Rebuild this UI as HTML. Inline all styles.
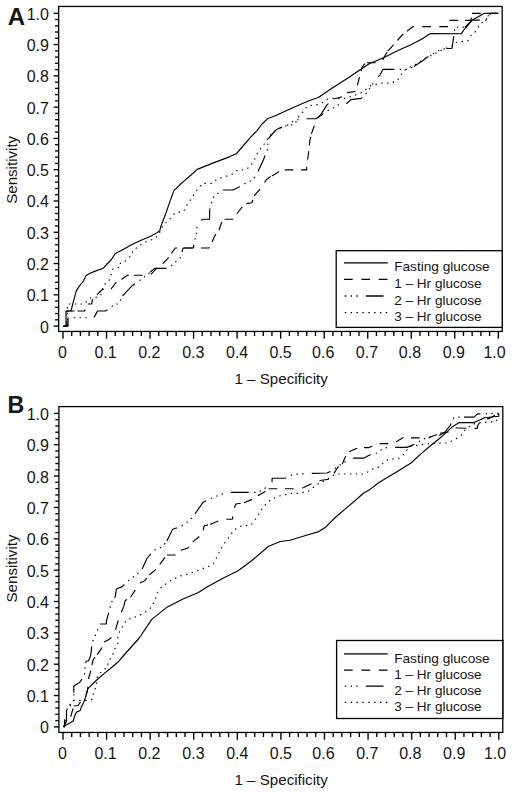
<!DOCTYPE html>
<html><head><meta charset="utf-8"><style>
html,body{margin:0;padding:0;background:#fff;}
svg{display:block;}
text{font-family:"Liberation Sans", sans-serif;fill:#151515;}
</style></head><body>
<svg width="512" height="793" viewBox="0 0 512 793">
<rect x="0" y="0" width="512" height="793" fill="#fff"/>
<rect x="58.65" y="6.45" width="443.55" height="325" fill="none" stroke="#000" stroke-width="1.3"/>
<line x1="53.65" y1="326.1" x2="58.65" y2="326.1" stroke="#000" stroke-width="1.35"/>
<line x1="55.05" y1="319.84" x2="58.65" y2="319.84" stroke="#000" stroke-width="1.35"/>
<line x1="55.05" y1="313.59" x2="58.65" y2="313.59" stroke="#000" stroke-width="1.35"/>
<line x1="55.05" y1="307.33" x2="58.65" y2="307.33" stroke="#000" stroke-width="1.35"/>
<line x1="55.05" y1="301.08" x2="58.65" y2="301.08" stroke="#000" stroke-width="1.35"/>
<line x1="53.65" y1="294.82" x2="58.65" y2="294.82" stroke="#000" stroke-width="1.35"/>
<line x1="55.05" y1="288.56" x2="58.65" y2="288.56" stroke="#000" stroke-width="1.35"/>
<line x1="55.05" y1="282.31" x2="58.65" y2="282.31" stroke="#000" stroke-width="1.35"/>
<line x1="55.05" y1="276.05" x2="58.65" y2="276.05" stroke="#000" stroke-width="1.35"/>
<line x1="55.05" y1="269.8" x2="58.65" y2="269.8" stroke="#000" stroke-width="1.35"/>
<line x1="53.65" y1="263.54" x2="58.65" y2="263.54" stroke="#000" stroke-width="1.35"/>
<line x1="55.05" y1="257.28" x2="58.65" y2="257.28" stroke="#000" stroke-width="1.35"/>
<line x1="55.05" y1="251.03" x2="58.65" y2="251.03" stroke="#000" stroke-width="1.35"/>
<line x1="55.05" y1="244.77" x2="58.65" y2="244.77" stroke="#000" stroke-width="1.35"/>
<line x1="55.05" y1="238.52" x2="58.65" y2="238.52" stroke="#000" stroke-width="1.35"/>
<line x1="53.65" y1="232.26" x2="58.65" y2="232.26" stroke="#000" stroke-width="1.35"/>
<line x1="55.05" y1="226" x2="58.65" y2="226" stroke="#000" stroke-width="1.35"/>
<line x1="55.05" y1="219.75" x2="58.65" y2="219.75" stroke="#000" stroke-width="1.35"/>
<line x1="55.05" y1="213.49" x2="58.65" y2="213.49" stroke="#000" stroke-width="1.35"/>
<line x1="55.05" y1="207.24" x2="58.65" y2="207.24" stroke="#000" stroke-width="1.35"/>
<line x1="53.65" y1="200.98" x2="58.65" y2="200.98" stroke="#000" stroke-width="1.35"/>
<line x1="55.05" y1="194.72" x2="58.65" y2="194.72" stroke="#000" stroke-width="1.35"/>
<line x1="55.05" y1="188.47" x2="58.65" y2="188.47" stroke="#000" stroke-width="1.35"/>
<line x1="55.05" y1="182.21" x2="58.65" y2="182.21" stroke="#000" stroke-width="1.35"/>
<line x1="55.05" y1="175.96" x2="58.65" y2="175.96" stroke="#000" stroke-width="1.35"/>
<line x1="53.65" y1="169.7" x2="58.65" y2="169.7" stroke="#000" stroke-width="1.35"/>
<line x1="55.05" y1="163.44" x2="58.65" y2="163.44" stroke="#000" stroke-width="1.35"/>
<line x1="55.05" y1="157.19" x2="58.65" y2="157.19" stroke="#000" stroke-width="1.35"/>
<line x1="55.05" y1="150.93" x2="58.65" y2="150.93" stroke="#000" stroke-width="1.35"/>
<line x1="55.05" y1="144.68" x2="58.65" y2="144.68" stroke="#000" stroke-width="1.35"/>
<line x1="53.65" y1="138.42" x2="58.65" y2="138.42" stroke="#000" stroke-width="1.35"/>
<line x1="55.05" y1="132.16" x2="58.65" y2="132.16" stroke="#000" stroke-width="1.35"/>
<line x1="55.05" y1="125.91" x2="58.65" y2="125.91" stroke="#000" stroke-width="1.35"/>
<line x1="55.05" y1="119.65" x2="58.65" y2="119.65" stroke="#000" stroke-width="1.35"/>
<line x1="55.05" y1="113.4" x2="58.65" y2="113.4" stroke="#000" stroke-width="1.35"/>
<line x1="53.65" y1="107.14" x2="58.65" y2="107.14" stroke="#000" stroke-width="1.35"/>
<line x1="55.05" y1="100.88" x2="58.65" y2="100.88" stroke="#000" stroke-width="1.35"/>
<line x1="55.05" y1="94.63" x2="58.65" y2="94.63" stroke="#000" stroke-width="1.35"/>
<line x1="55.05" y1="88.37" x2="58.65" y2="88.37" stroke="#000" stroke-width="1.35"/>
<line x1="55.05" y1="82.12" x2="58.65" y2="82.12" stroke="#000" stroke-width="1.35"/>
<line x1="53.65" y1="75.86" x2="58.65" y2="75.86" stroke="#000" stroke-width="1.35"/>
<line x1="55.05" y1="69.6" x2="58.65" y2="69.6" stroke="#000" stroke-width="1.35"/>
<line x1="55.05" y1="63.35" x2="58.65" y2="63.35" stroke="#000" stroke-width="1.35"/>
<line x1="55.05" y1="57.09" x2="58.65" y2="57.09" stroke="#000" stroke-width="1.35"/>
<line x1="55.05" y1="50.84" x2="58.65" y2="50.84" stroke="#000" stroke-width="1.35"/>
<line x1="53.65" y1="44.58" x2="58.65" y2="44.58" stroke="#000" stroke-width="1.35"/>
<line x1="55.05" y1="38.32" x2="58.65" y2="38.32" stroke="#000" stroke-width="1.35"/>
<line x1="55.05" y1="32.07" x2="58.65" y2="32.07" stroke="#000" stroke-width="1.35"/>
<line x1="55.05" y1="25.81" x2="58.65" y2="25.81" stroke="#000" stroke-width="1.35"/>
<line x1="55.05" y1="19.56" x2="58.65" y2="19.56" stroke="#000" stroke-width="1.35"/>
<line x1="53.65" y1="13.3" x2="58.65" y2="13.3" stroke="#000" stroke-width="1.35"/>
<line x1="63" y1="331.45" x2="63" y2="338.75" stroke="#000" stroke-width="1.35"/>
<line x1="71.71" y1="331.45" x2="71.71" y2="336.05" stroke="#000" stroke-width="1.35"/>
<line x1="80.41" y1="331.45" x2="80.41" y2="336.05" stroke="#000" stroke-width="1.35"/>
<line x1="89.12" y1="331.45" x2="89.12" y2="336.05" stroke="#000" stroke-width="1.35"/>
<line x1="97.82" y1="331.45" x2="97.82" y2="336.05" stroke="#000" stroke-width="1.35"/>
<line x1="106.53" y1="331.45" x2="106.53" y2="338.75" stroke="#000" stroke-width="1.35"/>
<line x1="115.24" y1="331.45" x2="115.24" y2="336.05" stroke="#000" stroke-width="1.35"/>
<line x1="123.94" y1="331.45" x2="123.94" y2="336.05" stroke="#000" stroke-width="1.35"/>
<line x1="132.65" y1="331.45" x2="132.65" y2="336.05" stroke="#000" stroke-width="1.35"/>
<line x1="141.35" y1="331.45" x2="141.35" y2="336.05" stroke="#000" stroke-width="1.35"/>
<line x1="150.06" y1="331.45" x2="150.06" y2="338.75" stroke="#000" stroke-width="1.35"/>
<line x1="158.77" y1="331.45" x2="158.77" y2="336.05" stroke="#000" stroke-width="1.35"/>
<line x1="167.47" y1="331.45" x2="167.47" y2="336.05" stroke="#000" stroke-width="1.35"/>
<line x1="176.18" y1="331.45" x2="176.18" y2="336.05" stroke="#000" stroke-width="1.35"/>
<line x1="184.88" y1="331.45" x2="184.88" y2="336.05" stroke="#000" stroke-width="1.35"/>
<line x1="193.59" y1="331.45" x2="193.59" y2="338.75" stroke="#000" stroke-width="1.35"/>
<line x1="202.3" y1="331.45" x2="202.3" y2="336.05" stroke="#000" stroke-width="1.35"/>
<line x1="211" y1="331.45" x2="211" y2="336.05" stroke="#000" stroke-width="1.35"/>
<line x1="219.71" y1="331.45" x2="219.71" y2="336.05" stroke="#000" stroke-width="1.35"/>
<line x1="228.41" y1="331.45" x2="228.41" y2="336.05" stroke="#000" stroke-width="1.35"/>
<line x1="237.12" y1="331.45" x2="237.12" y2="338.75" stroke="#000" stroke-width="1.35"/>
<line x1="245.83" y1="331.45" x2="245.83" y2="336.05" stroke="#000" stroke-width="1.35"/>
<line x1="254.53" y1="331.45" x2="254.53" y2="336.05" stroke="#000" stroke-width="1.35"/>
<line x1="263.24" y1="331.45" x2="263.24" y2="336.05" stroke="#000" stroke-width="1.35"/>
<line x1="271.94" y1="331.45" x2="271.94" y2="336.05" stroke="#000" stroke-width="1.35"/>
<line x1="280.65" y1="331.45" x2="280.65" y2="338.75" stroke="#000" stroke-width="1.35"/>
<line x1="289.36" y1="331.45" x2="289.36" y2="336.05" stroke="#000" stroke-width="1.35"/>
<line x1="298.06" y1="331.45" x2="298.06" y2="336.05" stroke="#000" stroke-width="1.35"/>
<line x1="306.77" y1="331.45" x2="306.77" y2="336.05" stroke="#000" stroke-width="1.35"/>
<line x1="315.47" y1="331.45" x2="315.47" y2="336.05" stroke="#000" stroke-width="1.35"/>
<line x1="324.18" y1="331.45" x2="324.18" y2="338.75" stroke="#000" stroke-width="1.35"/>
<line x1="332.89" y1="331.45" x2="332.89" y2="336.05" stroke="#000" stroke-width="1.35"/>
<line x1="341.59" y1="331.45" x2="341.59" y2="336.05" stroke="#000" stroke-width="1.35"/>
<line x1="350.3" y1="331.45" x2="350.3" y2="336.05" stroke="#000" stroke-width="1.35"/>
<line x1="359" y1="331.45" x2="359" y2="336.05" stroke="#000" stroke-width="1.35"/>
<line x1="367.71" y1="331.45" x2="367.71" y2="338.75" stroke="#000" stroke-width="1.35"/>
<line x1="376.42" y1="331.45" x2="376.42" y2="336.05" stroke="#000" stroke-width="1.35"/>
<line x1="385.12" y1="331.45" x2="385.12" y2="336.05" stroke="#000" stroke-width="1.35"/>
<line x1="393.83" y1="331.45" x2="393.83" y2="336.05" stroke="#000" stroke-width="1.35"/>
<line x1="402.53" y1="331.45" x2="402.53" y2="336.05" stroke="#000" stroke-width="1.35"/>
<line x1="411.24" y1="331.45" x2="411.24" y2="338.75" stroke="#000" stroke-width="1.35"/>
<line x1="419.95" y1="331.45" x2="419.95" y2="336.05" stroke="#000" stroke-width="1.35"/>
<line x1="428.65" y1="331.45" x2="428.65" y2="336.05" stroke="#000" stroke-width="1.35"/>
<line x1="437.36" y1="331.45" x2="437.36" y2="336.05" stroke="#000" stroke-width="1.35"/>
<line x1="446.06" y1="331.45" x2="446.06" y2="336.05" stroke="#000" stroke-width="1.35"/>
<line x1="454.77" y1="331.45" x2="454.77" y2="338.75" stroke="#000" stroke-width="1.35"/>
<line x1="463.48" y1="331.45" x2="463.48" y2="336.05" stroke="#000" stroke-width="1.35"/>
<line x1="472.18" y1="331.45" x2="472.18" y2="336.05" stroke="#000" stroke-width="1.35"/>
<line x1="480.89" y1="331.45" x2="480.89" y2="336.05" stroke="#000" stroke-width="1.35"/>
<line x1="489.59" y1="331.45" x2="489.59" y2="336.05" stroke="#000" stroke-width="1.35"/>
<line x1="498.3" y1="331.45" x2="498.3" y2="338.75" stroke="#000" stroke-width="1.35"/>
<text x="48.9" y="332.5" font-size="16" text-anchor="end" font-weight="normal">0</text>
<text x="48.9" y="301.22" font-size="16" text-anchor="end" font-weight="normal">0.1</text>
<text x="48.9" y="269.94" font-size="16" text-anchor="end" font-weight="normal">0.2</text>
<text x="48.9" y="238.66" font-size="16" text-anchor="end" font-weight="normal">0.3</text>
<text x="48.9" y="207.38" font-size="16" text-anchor="end" font-weight="normal">0.4</text>
<text x="48.9" y="176.1" font-size="16" text-anchor="end" font-weight="normal">0.5</text>
<text x="48.9" y="144.82" font-size="16" text-anchor="end" font-weight="normal">0.6</text>
<text x="48.9" y="113.54" font-size="16" text-anchor="end" font-weight="normal">0.7</text>
<text x="48.9" y="82.26" font-size="16" text-anchor="end" font-weight="normal">0.8</text>
<text x="48.9" y="50.98" font-size="16" text-anchor="end" font-weight="normal">0.9</text>
<text x="48.9" y="19.7" font-size="16" text-anchor="end" font-weight="normal">1.0</text>
<text x="62.4" y="358.4" font-size="16" text-anchor="middle" font-weight="normal">0</text>
<text x="105.53" y="358.4" font-size="16" text-anchor="middle" font-weight="normal">0.1</text>
<text x="149.26" y="358.4" font-size="16" text-anchor="middle" font-weight="normal">0.2</text>
<text x="193.29" y="358.4" font-size="16" text-anchor="middle" font-weight="normal">0.3</text>
<text x="237.12" y="358.4" font-size="16" text-anchor="middle" font-weight="normal">0.4</text>
<text x="280.65" y="358.4" font-size="16" text-anchor="middle" font-weight="normal">0.5</text>
<text x="323.18" y="358.4" font-size="16" text-anchor="middle" font-weight="normal">0.6</text>
<text x="366.91" y="358.4" font-size="16" text-anchor="middle" font-weight="normal">0.7</text>
<text x="409.94" y="358.4" font-size="16" text-anchor="middle" font-weight="normal">0.8</text>
<text x="453.77" y="358.4" font-size="16" text-anchor="middle" font-weight="normal">0.9</text>
<text x="494.6" y="358.4" font-size="16" text-anchor="middle" font-weight="normal">1.0</text>
<text x="16.6" y="169.85" font-size="14" text-anchor="middle" font-weight="normal" textLength="68" lengthAdjust="spacingAndGlyphs" transform="rotate(-90 16.6 169.85)">Sensitivity</text>
<text x="234.5" y="384.1" font-size="14" text-anchor="start" font-weight="normal" textLength="93.3" lengthAdjust="spacingAndGlyphs">1 – Specificity</text>
<text x="7.7" y="25" font-size="24" text-anchor="start" font-weight="bold">A</text>
<polyline points="63.5,326.1 66,326.1 66,311 71,311 72.5,304.8 74.8,296.3 76,291.6 79.1,286.4 83.5,281 85.9,275.8 89.4,273.5 95.2,271.1 103.4,268.2 107.5,263.5 111,260 115.4,253.4 125,248.5 130,245.6 139.4,241 148.75,237 154.9,234.1 159.8,230.7 160.7,226.8 165.6,214 170,201.4 173.9,190.6 179.8,184.8 186,179.4 191,175 197.2,169.4 212.2,163.4 230,156.6 236.25,153.8 241.7,147.5 250.5,137.4 257.3,130.3 262,124 267.4,118.8 277.1,115 286.7,110.5 298.4,105.2 310.2,100.3 318.3,97.5 332.3,88.1 348.75,77.6 360.5,69.6 370,63.2 376.4,60.8 386.1,56.5 396.9,51.1 410.8,44.7 421.1,39.6 430.5,33.6 461.4,33.8 464.3,29.4 468.4,24.75 472,20 477.8,17.1 482.5,14.2 484.3,13.3 498.5,13.3" fill="none" stroke="#000" stroke-width="1.15" stroke-linejoin="round"/>
<path d="M63.50 326.10 L67.00 326.10 L67.00 320.90 M67.00 312.20 L67.00 311.00 L74.50 311.00 M77.50 311.00 L84.70 311.00 L84.70 309.50 M87.90 304.00 L87.90 304.00 M87.90 304.00 L91.70 304.00 L92.59 299.18 M96.88 294.54 L97.60 294.00 L102.30 289.50 L103.59 289.43 M110.91 289.01 L111.00 289.00 L115.70 282.85 L116.44 282.40 M121.47 279.38 L121.60 279.30 L127.50 275.20 L128.86 275.20 M133.80 275.20 L142.50 275.20 M150.84 274.34 L156.90 268.10 M162.80 263.60 L167.50 258.90 L168.69 257.23 M171.40 253.40 L175.30 248.00 L177.34 248.00 M184.00 248.00 L192.70 248.00 M201.00 248.00 L209.00 248.00 L209.31 247.37 M212.00 241.90 L212.00 241.90 L215.00 235.60 L216.00 234.20 M219.00 230.00 L221.40 223.00 L222.22 221.99 M224.50 219.20 L233.20 219.20 M237.00 213.75 L241.70 207.50 L242.38 206.94 M246.40 203.60 L251.90 202.80 L252.88 199.81 M254.20 195.80 L259.00 190.30 L259.84 189.18 M264.53 182.46 L266.00 180.00 L270.00 176.90 L270.68 176.52 M271.74 175.93 L277.00 173.00 L279.09 171.33 M284.70 169.80 L293.40 169.80 M301.00 169.80 L306.70 169.80 L306.70 166.80 M307.56 159.71 L308.30 155.00 L308.72 151.09 M309.31 145.55 L309.80 141.00 L310.71 136.97 M311.40 133.90 L314.35 125.72 M317.95 117.90 L318.15 117.67 M318.15 117.67 L321.00 114.30 L323.31 110.68 M323.33 110.64 L327.00 104.90 L328.39 103.62 M333.40 99.00 L340.50 97.30 L341.63 96.47 M346.90 92.60 L355.53 91.46 M357.36 85.47 L359.00 79.00 L359.51 77.03 M361.00 71.25 L362.00 67.30 L364.80 63.62 M366.90 62.70 L375.60 62.70 M382.65 59.84 L387.00 52.31 M387.70 51.10 L392.60 45.80 L393.58 44.69 M397.40 40.40 L402.20 35.00 L403.37 34.10 M407.00 31.30 L413.00 26.60 L414.08 26.60 M422.30 26.60 L431.00 26.60 M439.30 26.60 L448.00 26.60 M449.64 20.59 L449.70 20.30 L458.11 20.30 M465.00 20.30 L471.00 20.30 L471.38 17.63 M472.00 13.30 L480.70 13.30 M489.40 13.30 L498.10 13.30" fill="none" stroke="#000" stroke-width="1.15" stroke-linejoin="round"/>
<path d="M63.50 326.10 L68.00 326.10 L68.00 317.70 L68.40 317.70 M73.70 317.70 L75.10 317.70 M79.50 317.70 L80.90 317.70 M85.30 317.70 L86.70 317.70 M94.02 317.36 L97.60 311.00 L105.20 311.00 L107.55 309.67 M111.76 306.56 L112.68 305.50 M116.40 304.00 L117.80 304.00 M120.25 300.86 L120.87 299.61 M122.64 296.02 L122.80 295.70 L132.70 285.20 L135.04 283.65 M139.42 280.66 L140.55 279.83 M144.02 277.14 L145.10 276.25 M148.51 273.46 L149.59 272.58 M150.30 272.00 L155.00 268.30 L166.62 268.30 M171.04 265.94 L172.10 265.02 M175.33 262.04 L176.33 261.06 M179.68 258.22 L180.77 257.33 M182.05 252.01 L183.00 248.00 L193.30 248.00 L193.89 244.88 M194.89 239.67 L195.25 238.32 M196.38 234.07 L196.40 234.00 L196.51 232.68 M196.89 228.29 L197.01 226.90 M201.37 220.53 L202.70 219.20 M202.70 219.20 L209.50 219.20 L209.70 209.80 L210.04 208.44 M211.35 203.31 L211.78 201.98 M213.33 197.87 L213.97 196.63 M217.28 193.86 L218.44 193.08 M223.00 190.00 L233.00 190.00 L238.60 187.20 L239.77 186.55 M244.40 183.97 L245.60 183.30 L245.62 183.29 M249.56 181.32 L250.81 180.69 M254.16 178.10 L254.88 176.90 M258.00 171.60 L263.40 159.90 L265.01 155.47 M266.98 150.55 L267.55 149.27 M267.80 144.93 L267.80 144.80 L267.99 143.54 M268.63 139.19 L268.80 138.00 M268.80 138.00 L273.20 133.00 L276.20 129.80 L280.90 127.50 L282.16 127.11 M287.15 125.38 L288.29 124.58 M291.90 122.06 L293.07 121.29 M297.07 119.78 L298.46 119.63 M306.51 118.77 L307.20 118.70 M307.20 118.70 L316.00 118.70 L323.24 113.70 M327.61 110.70 L328.86 110.07 M332.80 108.10 L333.40 107.80 L333.99 107.38 M337.60 104.89 L338.99 104.70 M346.30 103.70 L351.00 99.60 L361.00 98.40 L361.98 97.56 M365.78 93.91 L366.59 92.77 M369.15 89.19 L369.96 88.05 M372.49 84.45 L373.29 83.30 M378.15 76.85 L380.20 74.80 M380.20 74.80 L382.90 69.40 L394.46 69.40 M399.76 69.40 L401.16 69.40 M405.56 69.40 L406.00 69.40 L406.91 69.08 M411.06 67.63 L412.38 67.17 M414.00 66.60 L423.40 60.20 L426.40 57.80 L428.42 56.53 M432.91 53.71 L434.10 52.97 M437.97 50.95 L439.30 50.51 M443.48 49.14 L444.20 48.90 L444.84 48.82 M446.85 48.59 L447.60 48.50 L452.00 48.50 L453.82 36.19 M454.51 30.93 L454.69 29.54 M456.94 27.10 L458.34 27.10 M462.74 27.10 L464.14 27.10 M465.05 27.05 L472.00 20.10 L479.77 20.10 M485.07 20.10 L486.47 20.10 M488.09 16.39 L488.49 15.04 M491.58 13.30 L492.98 13.30" fill="none" stroke="#000" stroke-width="1.15" stroke-linejoin="round"/>
<path d="M67.50 326.00 L67.50 324.60 M67.50 320.14 L67.50 318.74 M67.50 314.28 L67.50 312.88 M67.50 308.42 L67.50 307.02 M68.94 304.00 L70.34 304.00 M74.80 304.00 L76.20 304.00 M80.66 304.00 L82.06 304.00 M85.69 302.47 L86.00 302.00 L86.62 301.45 M89.96 298.48 L90.50 298.00 L91.17 297.92 M95.60 297.38 L96.99 297.21 M100.59 295.04 L101.00 294.60 L101.23 293.84 M102.51 289.57 L102.91 288.23 M104.57 284.25 L105.76 283.51 M109.04 280.75 L109.50 279.43 M110.99 275.22 L111.00 275.20 L111.28 273.85 M112.18 269.49 L112.20 269.40 L113.46 269.03 M117.74 267.78 L119.08 267.39 M120.40 263.91 L120.40 263.00 L120.87 262.86 M124.98 261.32 L125.97 260.33 M129.15 257.21 L130.36 256.51 M132.35 252.86 L132.69 251.51 M135.67 248.50 L136.83 247.72 M140.37 245.02 L141.49 244.16 M145.46 242.16 L146.40 241.70 L146.74 241.58 M150.92 240.05 L152.24 239.57 M156.11 237.37 L157.32 236.66 M159.50 232.91 L160.08 231.63 M161.91 227.56 L162.48 226.29 M165.48 223.02 L165.60 222.90 L166.52 222.09 M169.85 219.13 L170.00 219.00 L170.72 218.04 M173.53 214.60 L174.66 213.77 M178.57 212.10 L179.97 212.10 M183.80 210.55 L184.81 209.58 M186.79 205.62 L187.36 204.34 M189.91 200.70 L190.50 199.90 L190.72 199.56 M193.13 195.81 L193.90 194.64 M196.37 190.93 L197.18 189.79 M199.93 186.28 L200.88 185.26 M204.49 183.30 L205.89 183.30 M210.35 183.30 L211.75 183.30 M215.24 180.61 L216.32 179.72 M220.45 178.13 L221.78 177.68 M226.00 176.25 L227.35 175.88 M231.64 174.67 L232.71 173.77 M236.13 170.90 L236.25 170.80 L237.44 170.45 M241.79 169.70 L243.19 169.70 M247.28 168.46 L248.45 167.69 M251.29 164.38 L252.02 163.19 M254.47 159.46 L255.10 158.50 L255.19 158.26 M256.85 154.13 L257.63 152.97 M260.10 149.26 L260.85 148.07 M263.62 144.61 L264.60 143.62 M267.17 140.02 L267.86 138.80 M270.55 135.26 L271.44 134.18 M274.66 131.10 L275.70 130.17 M279.57 128.13 L280.90 127.67 M285.12 126.24 L286.44 125.79 M290.84 125.05 L292.22 124.84 M295.60 122.35 L296.48 121.26 M298.37 117.23 L298.93 115.95 M302.04 112.76 L303.03 111.77 M305.61 108.14 L306.00 107.60 L306.64 107.24 M310.56 105.20 L311.96 105.20 M316.37 104.89 L317.70 104.46 M321.83 102.84 L323.04 102.13 M326.77 99.70 L327.92 98.89 M332.16 98.24 L333.56 98.26 M338.02 98.31 L339.42 98.33 M343.88 98.38 L345.20 98.40 L345.27 98.38 M349.51 96.99 L350.40 96.70 L350.84 96.55 M355.07 95.13 L356.39 94.68 M360.60 93.22 L361.72 92.38 M365.28 89.70 L366.40 88.86 M369.97 86.18 L370.60 85.70 L371.19 85.55 M375.51 84.45 L376.87 84.10 M381.20 83.10 L382.60 83.10 M387.06 83.10 L388.46 83.10 M392.79 82.39 L394.09 81.87 M397.84 79.75 L398.59 78.57 M400.98 74.81 L401.73 73.62 M404.80 70.40 L405.79 69.41 M409.73 67.35 L410.98 66.73 M414.98 64.75 L416.23 64.13 M420.02 61.78 L421.21 61.04 M424.99 58.68 L426.18 57.94 M430.16 55.92 L431.41 55.29 M435.40 53.30 L436.60 52.70 L436.65 52.67 M440.64 50.68 L441.89 50.05 M445.98 48.29 L447.31 47.84 M451.53 46.39 L451.80 46.30 L452.58 45.52 M455.79 42.47 L457.18 42.26 M461.59 41.58 L462.97 41.37 M467.38 40.70 L468.00 40.60 L468.38 39.93 M470.58 36.05 L471.00 35.30 L471.46 35.02 M474.88 32.29 L475.71 31.15 M478.25 27.50 L478.88 26.25 M481.62 22.92 L482.79 22.14 M486.31 19.49 L487.03 18.29 M489.48 14.59 L490.54 13.69 M494.86 13.30 L496.26 13.30" fill="none" stroke="#000" stroke-width="1.15" stroke-linejoin="round"/>
<rect x="336.2" y="250.7" width="166" height="76.7" fill="#fff" stroke="#000" stroke-width="1.3"/>
<polyline points="344,262.8 387.8,262.8" fill="none" stroke="#000" stroke-width="1.3" stroke-linejoin="round"/>
<text x="394.2" y="271.4" font-size="12.4" text-anchor="start" font-weight="normal" textLength="95.5" lengthAdjust="spacingAndGlyphs">Fasting glucose</text>
<path d="M344.00 279.40 L352.70 279.40 M361.40 279.40 L370.10 279.40 M378.80 279.40 L387.50 279.40" fill="none" stroke="#000" stroke-width="1.3" stroke-linejoin="round"/>
<text x="394.2" y="288" font-size="12.4" text-anchor="start" font-weight="normal" textLength="87.5" lengthAdjust="spacingAndGlyphs">1 – Hr glucose</text>
<path d="M344.80 296.00 L346.20 296.00 M350.60 296.00 L352.00 296.00 M356.40 296.00 L357.80 296.00 M365.90 296.00 L383.50 296.00" fill="none" stroke="#000" stroke-width="1.3" stroke-linejoin="round"/>
<text x="394.2" y="304.6" font-size="12.4" text-anchor="start" font-weight="normal" textLength="87.5" lengthAdjust="spacingAndGlyphs">2 – Hr glucose</text>
<path d="M344.80 312.60 L346.20 312.60 M350.66 312.60 L352.06 312.60 M356.52 312.60 L357.92 312.60 M362.38 312.60 L363.78 312.60 M368.24 312.60 L369.64 312.60 M374.10 312.60 L375.50 312.60 M379.96 312.60 L381.36 312.60 M385.82 312.60 L387.22 312.60" fill="none" stroke="#000" stroke-width="1.3" stroke-linejoin="round"/>
<text x="394.2" y="321.2" font-size="12.4" text-anchor="start" font-weight="normal" textLength="87.5" lengthAdjust="spacingAndGlyphs">3 – Hr glucose</text>
<rect x="58.9" y="406.6" width="443.9" height="325.85" fill="none" stroke="#000" stroke-width="1.3"/>
<line x1="53.9" y1="726.9" x2="58.9" y2="726.9" stroke="#000" stroke-width="1.35"/>
<line x1="55.3" y1="720.63" x2="58.9" y2="720.63" stroke="#000" stroke-width="1.35"/>
<line x1="55.3" y1="714.36" x2="58.9" y2="714.36" stroke="#000" stroke-width="1.35"/>
<line x1="55.3" y1="708.09" x2="58.9" y2="708.09" stroke="#000" stroke-width="1.35"/>
<line x1="55.3" y1="701.82" x2="58.9" y2="701.82" stroke="#000" stroke-width="1.35"/>
<line x1="53.9" y1="695.55" x2="58.9" y2="695.55" stroke="#000" stroke-width="1.35"/>
<line x1="55.3" y1="689.28" x2="58.9" y2="689.28" stroke="#000" stroke-width="1.35"/>
<line x1="55.3" y1="683.01" x2="58.9" y2="683.01" stroke="#000" stroke-width="1.35"/>
<line x1="55.3" y1="676.74" x2="58.9" y2="676.74" stroke="#000" stroke-width="1.35"/>
<line x1="55.3" y1="670.47" x2="58.9" y2="670.47" stroke="#000" stroke-width="1.35"/>
<line x1="53.9" y1="664.2" x2="58.9" y2="664.2" stroke="#000" stroke-width="1.35"/>
<line x1="55.3" y1="657.93" x2="58.9" y2="657.93" stroke="#000" stroke-width="1.35"/>
<line x1="55.3" y1="651.66" x2="58.9" y2="651.66" stroke="#000" stroke-width="1.35"/>
<line x1="55.3" y1="645.39" x2="58.9" y2="645.39" stroke="#000" stroke-width="1.35"/>
<line x1="55.3" y1="639.12" x2="58.9" y2="639.12" stroke="#000" stroke-width="1.35"/>
<line x1="53.9" y1="632.85" x2="58.9" y2="632.85" stroke="#000" stroke-width="1.35"/>
<line x1="55.3" y1="626.58" x2="58.9" y2="626.58" stroke="#000" stroke-width="1.35"/>
<line x1="55.3" y1="620.31" x2="58.9" y2="620.31" stroke="#000" stroke-width="1.35"/>
<line x1="55.3" y1="614.04" x2="58.9" y2="614.04" stroke="#000" stroke-width="1.35"/>
<line x1="55.3" y1="607.77" x2="58.9" y2="607.77" stroke="#000" stroke-width="1.35"/>
<line x1="53.9" y1="601.5" x2="58.9" y2="601.5" stroke="#000" stroke-width="1.35"/>
<line x1="55.3" y1="595.23" x2="58.9" y2="595.23" stroke="#000" stroke-width="1.35"/>
<line x1="55.3" y1="588.96" x2="58.9" y2="588.96" stroke="#000" stroke-width="1.35"/>
<line x1="55.3" y1="582.69" x2="58.9" y2="582.69" stroke="#000" stroke-width="1.35"/>
<line x1="55.3" y1="576.42" x2="58.9" y2="576.42" stroke="#000" stroke-width="1.35"/>
<line x1="53.9" y1="570.15" x2="58.9" y2="570.15" stroke="#000" stroke-width="1.35"/>
<line x1="55.3" y1="563.88" x2="58.9" y2="563.88" stroke="#000" stroke-width="1.35"/>
<line x1="55.3" y1="557.61" x2="58.9" y2="557.61" stroke="#000" stroke-width="1.35"/>
<line x1="55.3" y1="551.34" x2="58.9" y2="551.34" stroke="#000" stroke-width="1.35"/>
<line x1="55.3" y1="545.07" x2="58.9" y2="545.07" stroke="#000" stroke-width="1.35"/>
<line x1="53.9" y1="538.8" x2="58.9" y2="538.8" stroke="#000" stroke-width="1.35"/>
<line x1="55.3" y1="532.53" x2="58.9" y2="532.53" stroke="#000" stroke-width="1.35"/>
<line x1="55.3" y1="526.26" x2="58.9" y2="526.26" stroke="#000" stroke-width="1.35"/>
<line x1="55.3" y1="519.99" x2="58.9" y2="519.99" stroke="#000" stroke-width="1.35"/>
<line x1="55.3" y1="513.72" x2="58.9" y2="513.72" stroke="#000" stroke-width="1.35"/>
<line x1="53.9" y1="507.45" x2="58.9" y2="507.45" stroke="#000" stroke-width="1.35"/>
<line x1="55.3" y1="501.18" x2="58.9" y2="501.18" stroke="#000" stroke-width="1.35"/>
<line x1="55.3" y1="494.91" x2="58.9" y2="494.91" stroke="#000" stroke-width="1.35"/>
<line x1="55.3" y1="488.64" x2="58.9" y2="488.64" stroke="#000" stroke-width="1.35"/>
<line x1="55.3" y1="482.37" x2="58.9" y2="482.37" stroke="#000" stroke-width="1.35"/>
<line x1="53.9" y1="476.1" x2="58.9" y2="476.1" stroke="#000" stroke-width="1.35"/>
<line x1="55.3" y1="469.83" x2="58.9" y2="469.83" stroke="#000" stroke-width="1.35"/>
<line x1="55.3" y1="463.56" x2="58.9" y2="463.56" stroke="#000" stroke-width="1.35"/>
<line x1="55.3" y1="457.29" x2="58.9" y2="457.29" stroke="#000" stroke-width="1.35"/>
<line x1="55.3" y1="451.02" x2="58.9" y2="451.02" stroke="#000" stroke-width="1.35"/>
<line x1="53.9" y1="444.75" x2="58.9" y2="444.75" stroke="#000" stroke-width="1.35"/>
<line x1="55.3" y1="438.48" x2="58.9" y2="438.48" stroke="#000" stroke-width="1.35"/>
<line x1="55.3" y1="432.21" x2="58.9" y2="432.21" stroke="#000" stroke-width="1.35"/>
<line x1="55.3" y1="425.94" x2="58.9" y2="425.94" stroke="#000" stroke-width="1.35"/>
<line x1="55.3" y1="419.67" x2="58.9" y2="419.67" stroke="#000" stroke-width="1.35"/>
<line x1="53.9" y1="413.4" x2="58.9" y2="413.4" stroke="#000" stroke-width="1.35"/>
<line x1="63" y1="732.45" x2="63" y2="739.75" stroke="#000" stroke-width="1.35"/>
<line x1="71.72" y1="732.45" x2="71.72" y2="737.05" stroke="#000" stroke-width="1.35"/>
<line x1="80.43" y1="732.45" x2="80.43" y2="737.05" stroke="#000" stroke-width="1.35"/>
<line x1="89.15" y1="732.45" x2="89.15" y2="737.05" stroke="#000" stroke-width="1.35"/>
<line x1="97.86" y1="732.45" x2="97.86" y2="737.05" stroke="#000" stroke-width="1.35"/>
<line x1="106.58" y1="732.45" x2="106.58" y2="739.75" stroke="#000" stroke-width="1.35"/>
<line x1="115.3" y1="732.45" x2="115.3" y2="737.05" stroke="#000" stroke-width="1.35"/>
<line x1="124.01" y1="732.45" x2="124.01" y2="737.05" stroke="#000" stroke-width="1.35"/>
<line x1="132.73" y1="732.45" x2="132.73" y2="737.05" stroke="#000" stroke-width="1.35"/>
<line x1="141.44" y1="732.45" x2="141.44" y2="737.05" stroke="#000" stroke-width="1.35"/>
<line x1="150.16" y1="732.45" x2="150.16" y2="739.75" stroke="#000" stroke-width="1.35"/>
<line x1="158.88" y1="732.45" x2="158.88" y2="737.05" stroke="#000" stroke-width="1.35"/>
<line x1="167.59" y1="732.45" x2="167.59" y2="737.05" stroke="#000" stroke-width="1.35"/>
<line x1="176.31" y1="732.45" x2="176.31" y2="737.05" stroke="#000" stroke-width="1.35"/>
<line x1="185.02" y1="732.45" x2="185.02" y2="737.05" stroke="#000" stroke-width="1.35"/>
<line x1="193.74" y1="732.45" x2="193.74" y2="739.75" stroke="#000" stroke-width="1.35"/>
<line x1="202.46" y1="732.45" x2="202.46" y2="737.05" stroke="#000" stroke-width="1.35"/>
<line x1="211.17" y1="732.45" x2="211.17" y2="737.05" stroke="#000" stroke-width="1.35"/>
<line x1="219.89" y1="732.45" x2="219.89" y2="737.05" stroke="#000" stroke-width="1.35"/>
<line x1="228.6" y1="732.45" x2="228.6" y2="737.05" stroke="#000" stroke-width="1.35"/>
<line x1="237.32" y1="732.45" x2="237.32" y2="739.75" stroke="#000" stroke-width="1.35"/>
<line x1="246.04" y1="732.45" x2="246.04" y2="737.05" stroke="#000" stroke-width="1.35"/>
<line x1="254.75" y1="732.45" x2="254.75" y2="737.05" stroke="#000" stroke-width="1.35"/>
<line x1="263.47" y1="732.45" x2="263.47" y2="737.05" stroke="#000" stroke-width="1.35"/>
<line x1="272.18" y1="732.45" x2="272.18" y2="737.05" stroke="#000" stroke-width="1.35"/>
<line x1="280.9" y1="732.45" x2="280.9" y2="739.75" stroke="#000" stroke-width="1.35"/>
<line x1="289.62" y1="732.45" x2="289.62" y2="737.05" stroke="#000" stroke-width="1.35"/>
<line x1="298.33" y1="732.45" x2="298.33" y2="737.05" stroke="#000" stroke-width="1.35"/>
<line x1="307.05" y1="732.45" x2="307.05" y2="737.05" stroke="#000" stroke-width="1.35"/>
<line x1="315.76" y1="732.45" x2="315.76" y2="737.05" stroke="#000" stroke-width="1.35"/>
<line x1="324.48" y1="732.45" x2="324.48" y2="739.75" stroke="#000" stroke-width="1.35"/>
<line x1="333.2" y1="732.45" x2="333.2" y2="737.05" stroke="#000" stroke-width="1.35"/>
<line x1="341.91" y1="732.45" x2="341.91" y2="737.05" stroke="#000" stroke-width="1.35"/>
<line x1="350.63" y1="732.45" x2="350.63" y2="737.05" stroke="#000" stroke-width="1.35"/>
<line x1="359.34" y1="732.45" x2="359.34" y2="737.05" stroke="#000" stroke-width="1.35"/>
<line x1="368.06" y1="732.45" x2="368.06" y2="739.75" stroke="#000" stroke-width="1.35"/>
<line x1="376.78" y1="732.45" x2="376.78" y2="737.05" stroke="#000" stroke-width="1.35"/>
<line x1="385.49" y1="732.45" x2="385.49" y2="737.05" stroke="#000" stroke-width="1.35"/>
<line x1="394.21" y1="732.45" x2="394.21" y2="737.05" stroke="#000" stroke-width="1.35"/>
<line x1="402.92" y1="732.45" x2="402.92" y2="737.05" stroke="#000" stroke-width="1.35"/>
<line x1="411.64" y1="732.45" x2="411.64" y2="739.75" stroke="#000" stroke-width="1.35"/>
<line x1="420.36" y1="732.45" x2="420.36" y2="737.05" stroke="#000" stroke-width="1.35"/>
<line x1="429.07" y1="732.45" x2="429.07" y2="737.05" stroke="#000" stroke-width="1.35"/>
<line x1="437.79" y1="732.45" x2="437.79" y2="737.05" stroke="#000" stroke-width="1.35"/>
<line x1="446.5" y1="732.45" x2="446.5" y2="737.05" stroke="#000" stroke-width="1.35"/>
<line x1="455.22" y1="732.45" x2="455.22" y2="739.75" stroke="#000" stroke-width="1.35"/>
<line x1="463.94" y1="732.45" x2="463.94" y2="737.05" stroke="#000" stroke-width="1.35"/>
<line x1="472.65" y1="732.45" x2="472.65" y2="737.05" stroke="#000" stroke-width="1.35"/>
<line x1="481.37" y1="732.45" x2="481.37" y2="737.05" stroke="#000" stroke-width="1.35"/>
<line x1="490.08" y1="732.45" x2="490.08" y2="737.05" stroke="#000" stroke-width="1.35"/>
<line x1="498.8" y1="732.45" x2="498.8" y2="739.75" stroke="#000" stroke-width="1.35"/>
<text x="48.9" y="733.3" font-size="16" text-anchor="end" font-weight="normal">0</text>
<text x="48.9" y="701.95" font-size="16" text-anchor="end" font-weight="normal">0.1</text>
<text x="48.9" y="670.6" font-size="16" text-anchor="end" font-weight="normal">0.2</text>
<text x="48.9" y="639.25" font-size="16" text-anchor="end" font-weight="normal">0.3</text>
<text x="48.9" y="607.9" font-size="16" text-anchor="end" font-weight="normal">0.4</text>
<text x="48.9" y="576.55" font-size="16" text-anchor="end" font-weight="normal">0.5</text>
<text x="48.9" y="545.2" font-size="16" text-anchor="end" font-weight="normal">0.6</text>
<text x="48.9" y="513.85" font-size="16" text-anchor="end" font-weight="normal">0.7</text>
<text x="48.9" y="482.5" font-size="16" text-anchor="end" font-weight="normal">0.8</text>
<text x="48.9" y="451.15" font-size="16" text-anchor="end" font-weight="normal">0.9</text>
<text x="48.9" y="419.8" font-size="16" text-anchor="end" font-weight="normal">1.0</text>
<text x="62.4" y="759.2" font-size="16" text-anchor="middle" font-weight="normal">0</text>
<text x="105.58" y="759.2" font-size="16" text-anchor="middle" font-weight="normal">0.1</text>
<text x="149.36" y="759.2" font-size="16" text-anchor="middle" font-weight="normal">0.2</text>
<text x="193.44" y="759.2" font-size="16" text-anchor="middle" font-weight="normal">0.3</text>
<text x="237.32" y="759.2" font-size="16" text-anchor="middle" font-weight="normal">0.4</text>
<text x="280.9" y="759.2" font-size="16" text-anchor="middle" font-weight="normal">0.5</text>
<text x="323.48" y="759.2" font-size="16" text-anchor="middle" font-weight="normal">0.6</text>
<text x="367.26" y="759.2" font-size="16" text-anchor="middle" font-weight="normal">0.7</text>
<text x="410.34" y="759.2" font-size="16" text-anchor="middle" font-weight="normal">0.8</text>
<text x="454.22" y="759.2" font-size="16" text-anchor="middle" font-weight="normal">0.9</text>
<text x="495.1" y="759.2" font-size="16" text-anchor="middle" font-weight="normal">1.0</text>
<text x="16.6" y="568.5" font-size="14" text-anchor="middle" font-weight="normal" textLength="68" lengthAdjust="spacingAndGlyphs" transform="rotate(-90 16.6 568.5)">Sensitivity</text>
<text x="234.5" y="785" font-size="14" text-anchor="start" font-weight="normal" textLength="93.3" lengthAdjust="spacingAndGlyphs">1 – Specificity</text>
<text x="7.6" y="413.2" font-size="23.2" text-anchor="start" font-weight="bold">B</text>
<polyline points="63.5,726.9 66.2,725 73.2,721 75,715 76.75,712 80.3,710.4 81.4,706.9 83.8,702.2 85.5,697.5 86.7,693.4 87.9,688.7 90.2,686.4 96.7,680 104.9,672.9 110.7,668.2 117.8,662.3 125.2,653.75 139.25,638 151.75,619.4 167.4,606.9 183,599 198.4,592.5 207.8,586.6 224,577.8 238.1,570.8 252.2,560.2 268.6,546.2 280.3,541.5 290,540.2 305.6,535.5 318.9,531.6 325.9,526.9 335.3,517.5 346.25,508.1 357.2,498.75 363.4,493.3 370,489.4 378.6,482.7 398.1,471 411,463 422,452.9 430.2,446 442.2,436.2 451.7,427.3 459.2,422.6 474,422.6 484.6,417.7 498.8,416.3 498.8,413.4" fill="none" stroke="#000" stroke-width="1.15" stroke-linejoin="round"/>
<path d="M63.50 726.90 L64.50 726.90 L64.50 719.20 M70.20 716.20 L70.90 716.20 L73.02 708.49 M73.70 706.00 L78.00 705.50 L80.57 701.96 M85.92 695.10 L86.00 695.00 L87.50 690.00 L88.00 686.69 M88.40 679.00 L90.40 672.20 L90.73 670.62 M91.90 665.00 L93.30 659.50 L95.18 657.13 M97.20 654.60 L101.60 648.30 L101.96 647.35 M104.00 642.00 L108.00 640.00 L111.00 638.00 L111.29 637.45 M115.29 629.73 L115.80 628.75 M115.80 628.75 L118.17 620.38 M121.28 612.27 L123.60 606.90 M123.60 606.90 L125.20 600.60 L127.05 599.41 M130.50 597.20 L135.20 590.10 L135.30 589.95 M139.80 583.10 L144.50 580.80 L146.66 578.09 M149.20 574.90 L155.00 570.20 L155.79 569.25 M159.80 564.40 L163.30 559.70 L165.00 557.42 M166.80 555.00 L175.00 555.00 L175.39 554.69 M180.90 550.30 L187.90 548.00 L188.73 546.96 M192.60 542.10 L199.28 536.52 M203.10 530.40 L204.30 525.70 L208.07 524.92 M210.10 524.50 L218.10 521.08 M226.40 519.20 L232.30 519.20 L232.94 516.47 M234.53 507.92 L234.60 507.50 M234.60 507.50 L235.80 504.00 L240.75 503.28 M244.00 502.80 L252.00 499.38 M258.00 495.80 L263.90 492.30 L265.37 491.19 M268.60 488.75 L277.30 488.75 M285.00 488.75 L293.70 488.75 M302.32 487.83 L303.70 487.60 M303.70 487.60 L311.48 483.71 M319.62 480.67 L320.10 480.50 M320.10 480.50 L328.70 479.21 M334.00 473.40 L337.60 467.50 L339.03 466.43 M342.30 464.00 L345.20 457.00 L345.89 456.11 M349.30 451.70 L355.70 448.75 L357.34 448.52 M364.00 447.60 L369.20 447.60 L372.31 446.00 M379.60 443.60 L388.30 443.60 M396.00 441.90 L402.80 437.80 L403.56 437.80 M411.00 437.80 L419.20 437.80 L419.70 437.80 M428.40 437.80 L428.80 437.80 M428.80 437.80 L435.60 435.00 L436.85 434.49 M440.00 433.20 L448.20 432.00 L448.48 431.70 M455.60 428.00 L457.60 428.00 M457.60 428.00 L466.30 428.22 M474.60 428.44 L477.00 428.50 L478.00 425.00 L479.48 422.79 M487.20 419.12 L490.00 418.00 L495.00 415.29" fill="none" stroke="#000" stroke-width="1.15" stroke-linejoin="round"/>
<path d="M63.50 726.90 L66.50 721.50 L66.50 710.08 M69.94 706.07 L70.00 706.00 L70.70 704.90 M73.05 701.18 L73.80 700.00 L73.80 699.99 M73.80 695.59 L73.80 694.19 M73.80 692.70 L73.80 685.90 L79.60 682.50 L81.91 679.14 M84.36 674.53 L84.67 673.16 M85.00 668.80 L85.00 667.80 L85.06 667.41 M85.70 663.05 L85.90 661.67 M86.00 661.00 L88.40 661.00 L90.40 656.60 L91.40 650.30 L91.67 646.32 M92.71 641.20 L93.28 639.93 M95.09 635.91 L95.50 635.00 L95.66 634.63 M97.39 630.59 L97.94 629.30 M100.20 624.00 L106.40 624.00 L106.40 621.00 L108.64 612.90 M110.06 607.80 L110.46 606.46 M111.73 602.24 L112.13 600.90 M114.29 597.53 L115.20 597.20 M115.20 597.20 L116.40 589.00 L122.30 586.60 L124.38 584.52 M128.13 580.78 L129.26 579.94 M132.78 577.31 L132.80 577.30 L133.90 576.47 M137.41 573.82 L137.50 573.75 L138.41 572.83 M142.20 569.00 L146.90 558.50 L150.86 553.86 M154.47 550.08 L155.78 549.57 M159.87 547.95 L161.02 547.16 M164.29 544.30 L165.14 543.18 M166.80 541.00 L172.65 529.20 L176.86 527.83 M181.68 525.70 L182.88 524.98 M186.56 522.59 L187.67 521.73 M190.97 518.85 L191.85 517.77 M194.90 514.00 L203.10 502.30 L206.05 500.80 M210.81 498.47 L212.11 497.95 M216.20 496.32 L217.50 495.80 M221.58 494.17 L222.00 494.00 L222.93 493.83 M230.90 492.34 L231.10 492.30 M231.10 492.30 L248.70 492.30 M254.00 492.30 L255.40 492.30 M259.64 491.36 L260.40 491.10 L260.91 490.79 M264.68 488.52 L265.88 487.79 M271.66 482.14 L272.10 481.70 M272.10 481.70 L272.10 478.20 L285.00 478.20 L286.07 477.66 M290.81 475.29 L292.00 474.70 L292.07 474.69 M296.46 474.32 L297.85 474.20 M302.24 473.82 L303.63 473.70 M311.72 473.36 L313.10 473.33 M313.10 473.33 L327.00 473.00 L330.40 471.55 M334.80 468.66 L335.92 467.82 M339.57 465.36 L340.75 464.61 M344.45 462.24 L345.64 461.49 M353.12 458.44 L354.00 458.10 M354.00 458.10 L364.00 458.10 L370.69 454.49 M375.80 453.25 L377.18 453.00 M380.58 450.39 L381.59 449.43 M385.62 447.93 L386.98 447.60 M395.06 447.40 L397.30 447.40 M397.30 447.40 L406.90 447.40 L413.75 444.60 L414.27 444.30 M418.86 441.66 L420.00 441.00 L420.08 440.96 M424.01 438.99 L425.27 438.37 M429.32 436.78 L430.71 436.55 M438.70 435.22 L440.00 435.00 L445.00 432.00 L450.50 425.00 L451.00 423.54 M453.13 418.77 L454.05 417.72 M458.18 417.10 L459.58 417.10 M463.98 417.10 L464.00 417.10 M464.00 417.10 L474.00 417.10 L477.50 413.90 L480.36 413.83 M485.66 413.71 L487.05 413.67 M491.45 413.57 L492.85 413.53 M497.25 413.43 L498.50 413.40" fill="none" stroke="#000" stroke-width="1.15" stroke-linejoin="round"/>
<path d="M63.50 726.90 L63.98 725.58 M65.50 721.39 L65.97 720.07 M66.47 715.64 L66.61 714.25 M67.09 709.82 L67.24 708.42 M69.57 705.01 L70.46 703.93 M73.52 700.69 L73.80 700.40 L74.80 700.40 M79.26 700.40 L80.66 700.40 M85.12 700.40 L86.52 700.40 M90.87 699.60 L92.00 699.30 L92.06 699.08 M93.16 694.75 L93.20 694.60 L93.39 693.37 M94.82 689.24 L95.55 688.05 M96.55 683.80 L96.69 682.40 M97.12 677.96 L97.20 677.10 L97.52 676.68 M100.25 673.15 L101.24 672.16 M104.64 669.31 L105.82 668.56 M107.68 664.82 L107.99 663.45 M109.82 659.39 L110.00 659.00 L110.58 658.22 M113.00 654.54 L113.23 653.16 M114.51 649.02 L115.45 647.98 M117.54 644.14 L117.90 643.10 L117.90 642.80 M117.90 638.34 L117.90 637.20 L117.97 636.95 M119.27 632.69 L119.67 631.35 M121.79 627.50 L122.63 626.38 M124.92 622.57 L125.54 621.32 M129.09 619.03 L130.40 618.52 M134.65 617.21 L136.01 616.86 M140.05 615.00 L141.31 614.39 M145.20 612.22 L146.41 611.51 M149.80 608.61 L150.85 607.69 M153.13 603.90 L153.79 602.66 M155.52 598.58 L155.94 597.24 M157.25 592.98 L157.40 592.50 L157.95 591.79 M160.66 588.24 L161.00 587.80 L161.65 587.27 M165.12 584.46 L166.21 583.58 M169.89 581.07 L170.30 580.80 L171.11 580.39 M175.10 578.40 L176.35 577.77 M180.40 575.92 L181.75 575.58 M186.08 574.49 L187.43 574.15 M191.66 572.74 L192.97 572.25 M197.14 570.67 L198.40 570.20 L198.45 570.18 M202.63 568.62 L203.95 568.14 M208.11 566.54 L209.35 565.90 M213.31 563.85 L213.50 563.75 L214.03 562.69 M216.02 558.69 L216.64 557.44 M218.63 553.45 L219.26 552.20 M221.25 548.21 L221.70 547.30 L221.92 546.98 M224.48 543.33 L225.29 542.18 M227.85 538.53 L228.65 537.38 M231.33 533.82 L232.21 532.73 M235.15 529.43 L236.35 528.71 M240.19 526.44 L240.50 526.25 L241.53 526.14 M245.96 525.65 L247.36 525.50 M251.47 524.46 L252.31 523.34 M254.97 519.76 L255.81 518.64 M258.39 515.01 L259.09 513.80 M261.31 509.93 L262.00 508.71 M264.88 505.35 L265.87 504.36 M269.05 501.23 L270.04 500.25 M273.92 498.20 L275.23 497.71 M279.40 496.14 L280.30 495.80 L280.72 495.69 M285.05 494.59 L286.40 494.24 M290.76 493.40 L292.16 493.40 M296.62 493.40 L298.02 493.40 M302.38 492.57 L303.74 492.24 M308.07 491.18 L308.40 491.10 L309.25 490.47 M312.83 487.80 L313.95 486.97 M317.53 484.30 L317.80 484.10 L318.75 483.63 M322.74 481.63 L323.99 481.01 M327.93 478.93 L329.11 478.17 M332.86 475.76 L334.04 475.00 M338.20 474.00 L339.60 474.00 M344.06 474.00 L345.46 474.00 M349.92 474.00 L351.32 474.00 M355.78 474.00 L357.18 474.00 M361.64 474.00 L363.04 474.00 M367.03 472.38 L368.21 471.63 M372.12 469.49 L373.36 468.85 M377.55 467.39 L378.91 467.07 M382.11 464.03 L383.09 463.03 M386.69 460.43 L387.80 459.70 L387.88 459.69 M392.30 459.12 L393.20 459.00 L393.69 458.94 M398.11 458.37 L398.70 458.30 L399.37 457.86 M403.00 455.30 L403.77 454.13 M406.44 450.59 L407.45 449.62 M410.65 446.51 L411.66 445.54 M416.06 445.40 L417.46 445.40 M421.84 444.61 L423.22 444.34 M427.64 443.82 L429.04 443.73 M433.49 443.43 L434.88 443.34 M439.33 443.04 L440.00 443.00 L440.73 443.00 M445.19 443.00 L446.59 443.00 M450.74 441.45 L452.04 440.91 M455.96 438.80 L457.19 438.12 M460.84 435.63 L461.68 434.51 M464.32 430.92 L465.00 430.00 L465.20 429.84 M468.68 427.05 L469.78 426.18 M473.74 424.13 L474.99 423.51 M479.32 422.77 L480.72 422.67 M485.16 422.34 L486.56 422.23 M491.01 421.90 L492.40 421.79 M496.41 420.92 L496.79 419.57 M497.98 415.27 L498.35 413.92" fill="none" stroke="#000" stroke-width="1.15" stroke-linejoin="round"/>
<rect x="336.6" y="640.5" width="166.2" height="78" fill="#fff" stroke="#000" stroke-width="1.3"/>
<polyline points="344,653.9 387.8,653.9" fill="none" stroke="#000" stroke-width="1.3" stroke-linejoin="round"/>
<text x="394.2" y="662.5" font-size="12.4" text-anchor="start" font-weight="normal" textLength="95.5" lengthAdjust="spacingAndGlyphs">Fasting glucose</text>
<path d="M344.00 670.05 L352.70 670.05 M361.40 670.05 L370.10 670.05 M378.80 670.05 L387.50 670.05" fill="none" stroke="#000" stroke-width="1.3" stroke-linejoin="round"/>
<text x="394.2" y="678.65" font-size="12.4" text-anchor="start" font-weight="normal" textLength="87.5" lengthAdjust="spacingAndGlyphs">1 – Hr glucose</text>
<path d="M344.80 686.20 L346.20 686.20 M350.60 686.20 L352.00 686.20 M356.40 686.20 L357.80 686.20 M365.90 686.20 L383.50 686.20" fill="none" stroke="#000" stroke-width="1.3" stroke-linejoin="round"/>
<text x="394.2" y="694.8" font-size="12.4" text-anchor="start" font-weight="normal" textLength="87.5" lengthAdjust="spacingAndGlyphs">2 – Hr glucose</text>
<path d="M344.80 702.35 L346.20 702.35 M350.66 702.35 L352.06 702.35 M356.52 702.35 L357.92 702.35 M362.38 702.35 L363.78 702.35 M368.24 702.35 L369.64 702.35 M374.10 702.35 L375.50 702.35 M379.96 702.35 L381.36 702.35 M385.82 702.35 L387.22 702.35" fill="none" stroke="#000" stroke-width="1.3" stroke-linejoin="round"/>
<text x="394.2" y="710.95" font-size="12.4" text-anchor="start" font-weight="normal" textLength="87.5" lengthAdjust="spacingAndGlyphs">3 – Hr glucose</text>
</svg>
</body></html>
